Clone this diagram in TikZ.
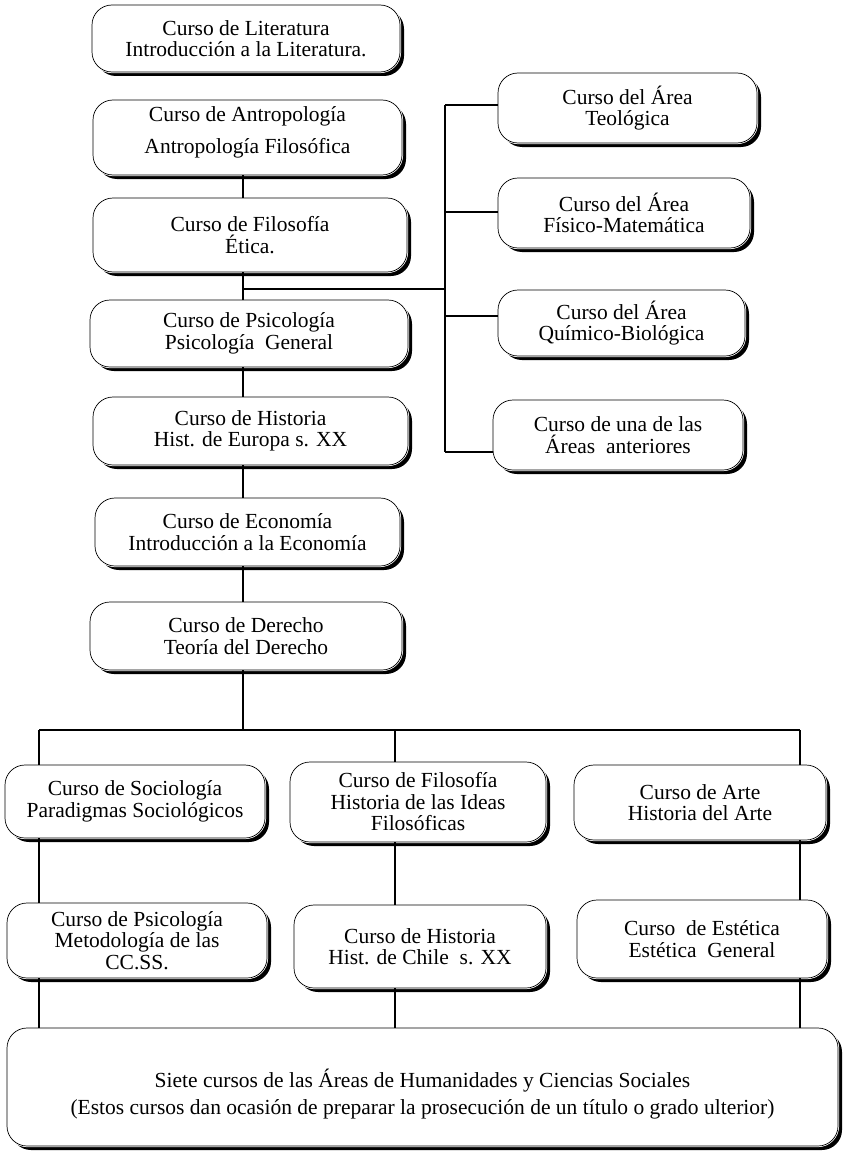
\documentclass[tikz,border=0pt]{standalone}
\usepackage{fontspec}
\setmainfont{Liberation Serif}
\usetikzlibrary{shadows}
\begin{document}
\begin{tikzpicture}[x=1pt,y=-1pt,
  course/.style={draw=black, line width=0.7pt, fill=white, rounded corners=20pt,
    align=center, inner sep=0pt,
    font=\fontsize{21.5pt}{21.5pt}\selectfont,
    drop shadow={shadow xshift=4pt, shadow yshift=-4pt, opacity=1, fill=black},
    preaction={draw=white, line width=2.2pt}},
  link/.style={draw=black, line width=2.2pt}]
\useasboundingbox (0,0) rectangle (846,1153);

% left column
\node[course, minimum width=308pt, minimum height=67pt] (lit) at (246,38.5) {Curso de Literatura\\Introducción a la Literatura.};
\node[course, minimum width=309pt, minimum height=75pt] (ant) at (247.5,137.5) {Curso de Antropología\\[11pt]Antropología Filosófica\rule[-15pt]{0pt}{15pt}};
\node[course, minimum width=314pt, minimum height=74pt] (fil) at (250,235) {Curso de Filosofía\\Ética.};
\node[course, minimum width=318pt, minimum height=67pt] (psi) at (249,333.5) {Curso de Psicología\\Psicología~~General};
\node[course, minimum width=315pt, minimum height=68pt] (his) at (250.5,431) {Curso de Historia\\Hist. de Europa s. XX};
\node[course, minimum width=305pt, minimum height=68pt] (eco) at (247.5,532) {Curso de Economía\\Introducción a la Economía};
\node[course, minimum width=312pt, minimum height=68pt] (der) at (246,636) {Curso de Derecho\\Teoría del Derecho};

% right column
\node[course, minimum width=259pt, minimum height=70pt] (r1) at (627.5,108) {Curso del Área\\Teológica};
\node[course, minimum width=252pt, minimum height=70pt] (r2) at (624,213) {Curso del Área\\Físico-Matemática};
\node[course, minimum width=247pt, minimum height=66pt] (r3) at (621.5,323) {Curso del Área\\Químico-Biológica};
\node[course, minimum width=250pt, minimum height=70pt] (r4) at (618,435) {Curso de una de las\\Áreas~~anteriores};

% bottom rows
\node[course, minimum width=260pt, minimum height=73pt] (b1) at (135,801.5) {Curso de Sociología\\Paradigmas Sociológicos};
\node[course, minimum width=256pt, minimum height=80pt] (b2) at (418,802) {Curso de Filosofía\\Historia de las Ideas\\Filosóficas};
\node[course, minimum width=252pt, minimum height=75pt] (b3) at (700,802.5) {Curso de Arte\\Historia del Arte};
\node[course, minimum width=260pt, minimum height=75pt] (b4) at (137,940.5) {Curso de Psicología\\Metodología de las\\CC.SS.};
\node[course, minimum width=252pt, minimum height=83pt] (b5) at (420,946.5) {Curso de Historia\\Hist. de Chile~~s. XX};
\node[course, minimum width=250pt, minimum height=78pt] (b6) at (702,939) {Curso~~de Estética\\Estética~~General};
\node[course, minimum width=831pt, minimum height=118pt] (fin) at (422.5,1087) {\rule{0pt}{33pt}Siete cursos de las Áreas de Humanidades y Ciencias Sociales\\[5pt](Estos cursos dan ocasión de preparar la prosecución de un título o grado ulterior)};

% helper coordinates
\coordinate (sx) at (243,0);
\coordinate (rs) at (445,0);
\coordinate (j1) at (243,289);
\coordinate (top) at (445,105);
\coordinate (c2) at (445,212);
\coordinate (c3) at (445,316);
\coordinate (c4) at (445,452);
\coordinate (hb) at (243,730);
\coordinate (hl) at (39,730);
\coordinate (hr) at (800,730);
\coordinate (hm) at (395,730);

% central spine
\draw[link] (ant.south -| sx) -- (fil.north -| sx);
\draw[link] (fil.south -| sx) -- (psi.north -| sx);
\draw[link] (psi.south -| sx) -- (his.north -| sx);
\draw[link] (his.south -| sx) -- (eco.north -| sx);
\draw[link] (eco.south -| sx) -- (der.north -| sx);
\draw[link] (j1) -- (j1 -| rs);

% right spine
\draw[link] (top) -- (c4);
\draw[link] (top) -- (top -| r1.west);
\draw[link] (c2) -- (c2 -| r2.west);
\draw[link] (c3) -- (c3 -| r3.west);
\draw[link] (c4) -- (c4 -| r4.west);

% lower tree
\draw[link] (der.south -| sx) -- (hb);
\draw[link] (hl) -- (hr);
\draw[link] (hl) -- (hl |- b1.north);
\draw[link] (hm) -- (hm |- b2.north);
\draw[link] (hr) -- (hr |- b3.north);
\draw[link] (b1.south -| hl) -- (b4.north -| hl);
\draw[link] (b2.south -| hm) -- (b5.north -| hm);
\draw[link] (b3.south -| hr) -- (b6.north -| hr);
\draw[link] (b4.south -| hl) -- (fin.north -| hl);
\draw[link] (b5.south -| hm) -- (fin.north -| hm);
\draw[link] (b6.south -| hr) -- (fin.north -| hr);
\end{tikzpicture}
\end{document}
